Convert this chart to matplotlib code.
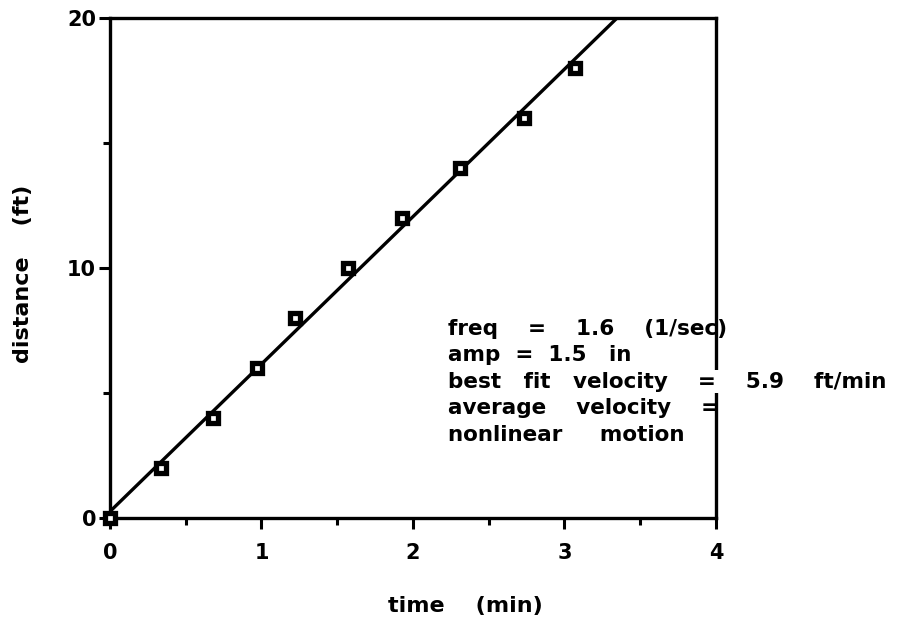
import numpy as np
import matplotlib
matplotlib.use("Agg")
from matplotlib import pyplot as plt
from matplotlib.ticker import MultipleLocator

time_min = [0.0, 0.34, 0.68, 0.97, 1.22, 1.57, 1.93, 2.31, 2.73, 3.07]
distance_ft = [0, 2, 4, 6, 8, 10, 12, 14, 16, 18]

notes = ["freq    =    1.6    (1/sec)",
         "amp  =  1.5   in",
         "best   fit   velocity    =    5.9    ft/min",
         "average    velocity    =",
         "nonlinear     motion"]

plt.rcParams['font.family'] = ['DejaVu Sans']
plt.rcParams['font.weight'] = 'bold'

fig = plt.figure(figsize=(8.97, 6.24), dpi=100)
ax = fig.add_axes([0.1226, 0.170, 0.6756, 0.801])

# best fit line
slope, icpt = np.polyfit(time_min, distance_ft, 1)
xx = np.array([0.0, 4.0])
ax.plot(xx, slope*xx + icpt, color='black', lw=2.4, zorder=2)

ax.plot(time_min, distance_ft, 's', ms=7, mfc='white', mec='black',
        mew=3.8, zorder=3, clip_on=False)

ax.set_xlim(0, 4)
ax.set_ylim(0, 20)
ax.xaxis.set_major_locator(MultipleLocator(1))
ax.xaxis.set_minor_locator(MultipleLocator(0.5))
ax.yaxis.set_major_locator(MultipleLocator(10))
ax.yaxis.set_minor_locator(MultipleLocator(5))
ax.tick_params(which='major', direction='out', length=8, width=2.2,
               labelsize=15)
ax.tick_params(axis='x', which='major', pad=10)
ax.tick_params(axis='y', which='major', pad=2)
ax.tick_params(which='minor', direction='out', length=5, width=2.2)
for s in ax.spines.values():
    s.set_linewidth(2.4)

ax.set_xlabel("time    (min)", fontsize=16, fontweight='bold')
ax.xaxis.set_label_coords(0.586, -0.156)
ax.set_ylabel("distance    (ft)", fontsize=16, fontweight='bold')
ax.yaxis.set_label_coords(-0.127, 0.488)

for i, t in enumerate(notes):
    txt = ax.text(2.23, 7.57 - i*1.06, t, fontsize=15.5, fontweight='bold',
                  va='center', ha='left', clip_on=False, zorder=4)
    if i == 2:
        # this line breaks the right frame in the original
        txt.set_bbox(dict(facecolor='white', edgecolor='none', pad=1))

fig.savefig("out.png", dpi=100)
